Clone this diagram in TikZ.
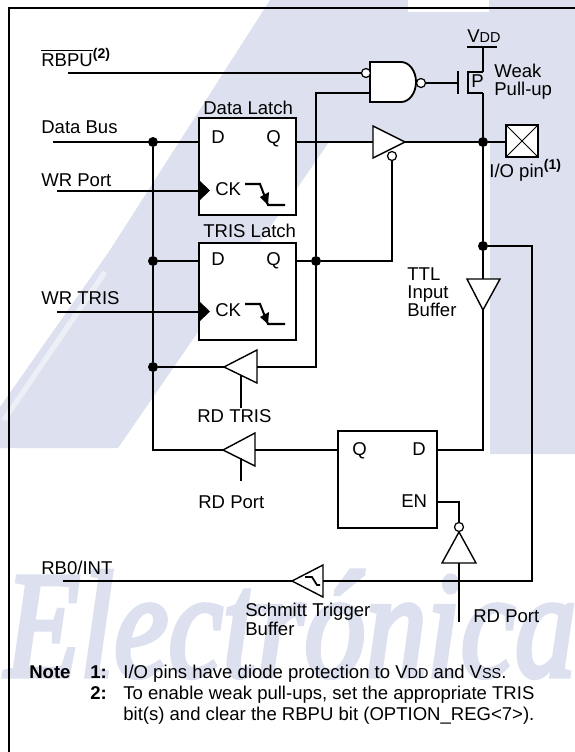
\documentclass[tikz,border=0pt]{standalone}
\usepackage{fontspec}
\setmainfont{Liberation Sans}
\newfontfamily\markfont[FakeBold=3.5]{Liberation Serif}
\newcommand{\lowcaps}[1]{{\fontsize{8.2}{10}\selectfont #1}}
\newcommand{\notemark}[1]{\raisebox{0.42em}{\fontsize{8}{9}\selectfont\bfseries #1}}
\definecolor{markblue}{HTML}{DDE0EE}
\definecolor{markpale}{HTML}{EDEFF6}
\tikzset{
  wire/.style={line width=1.15pt},
  gate/.style={line width=0.8pt,fill=white},
  nandgate/.style={line width=1.05pt,fill=white},
  thinline/.style={line width=0.55pt},
  latchbox/.style={draw,line width=1.15pt,fill=white,inner sep=0,outer sep=0},
  junction/.style={circle,fill=black,inner sep=0,minimum size=0.2cm},
  bubble/.style={circle,draw,line width=0.7pt,fill=white,inner sep=0,minimum size=0.18cm},
  lbl/.style={anchor=base west,inner sep=0,font=\fontsize{10.55}{12}\selectfont},
  notebold/.style={lbl,font=\fontsize{10.55}{12}\selectfont\bfseries},
}
\begin{document}
\begin{tikzpicture}[x=0.02cm,y=-0.02cm]
\useasboundingbox (0,0) rectangle (575,752);
% watermark
\begin{scope}
\clip (0,0) rectangle (575,752);
\fill[markblue] (270,0) -- (575,0) -- (575,454) -- (490,454) -- (490,142) -- (329,142)
  -- (118,448) -- (0,448) -- (0,407) -- (110,250) -- cycle;
\fill[white] (408,0) rectangle (489,12);
\draw[markpale,line width=3pt] (105,272) -- (4,420);
\node[lbl,font=\fontsize{86}{90}\selectfont\markfont\itshape,text=markblue,
  transform shape,xscale=0.81] (markword) at (5,676) {Electrónica};
\end{scope}
% frame
\coordinate (framea) at (9,752);
\coordinate (frameb) at (9,8);
\coordinate (framec) at (575,8);
\draw[wire] (framea) -- (frameb) -- (framec);
% latches
\node[latchbox,minimum width=1.94cm,minimum height=1.94cm] (datalatch) at (247.5,166.5) {};
\node[latchbox,minimum width=1.94cm,minimum height=1.94cm] (trislatch) at (247.5,291.5) {};
\node[latchbox,minimum width=1.98cm,minimum height=1.94cm] (portlatch) at (387.5,479.5) {};
\node[lbl] (datatitle) at (203,114) {Data Latch};
\node[lbl] (tristitle) at (203,237) {TRIS Latch};
\node[lbl] (datad) at (211,143) {D};
\node[lbl] (dataq) at (266,143) {Q};
\node[lbl] (trisd) at (211,265) {D};
\node[lbl] (trisq) at (266,265) {Q};
\node[lbl] (datack) at (215,195) {CK};
\node[lbl] (trisck) at (215,316) {CK};
\node[lbl] (portq) at (352,455) {Q};
\node[lbl] (portd) at (412,455) {D};
\node[lbl] (porten) at (401,507) {EN};
% clock marks
\fill (199,180) -- (210,190.5) -- (199,201) -- cycle;
\fill (199,301) -- (210,311.5) -- (199,322) -- cycle;
\draw[wire] (245,184) -- (260,184) -- (268,205) -- (285,205);
\draw[wire] (245,304) -- (260,304) -- (268,324) -- (285,324);
\fill (260,197) -- (269,192) -- (268,205) -- cycle;
\fill (260,317) -- (269,312) -- (268,324) -- cycle;
% nand and pull-up
\draw[nandgate] (370,62) -- (401,62) arc[start angle=-90,end angle=90,x radius=15,y radius=20] -- (370,102) -- cycle;
\node[bubble] (nandina) at (366,73) {};
\node[bubble] (nandout) at (421,83) {};
\coordinate (nandinb) at (370,93);
\coordinate (pgate) at (458,83);
\coordinate (vddbar) at (483,47);
\coordinate (pdrain) at (483,72);
\coordinate (psource) at (483,93);
\draw[wire] (467,47) -- (497,47);
\draw[wire] (458,71) -- (458,94);
\draw[wire] (pdrain) -- (468,72) -- (468,93) -- (psource);
\node[lbl] (vddlabel) at (467,42) {V\lowcaps{DD}};
\node[lbl] (plabel) at (471,87) {P};
\node[lbl] (weak) at (494,77) {Weak};
\node[lbl] (pullup) at (494,95) {Pull-up};
% buffers
\draw[gate] (373,126) -- (405,142) -- (373,158) -- cycle;
\node[bubble] (tsctl) at (392,156) {};
\draw[gate] (467,279) -- (500,279) -- (483,310) -- cycle;
\draw[gate] (224,367) -- (257,350) -- (257,383) -- cycle;
\draw[gate] (223,450) -- (255,433) -- (255,466) -- cycle;
\draw[gate] (292,581) -- (323,565) -- (323,597) -- cycle;
\draw[thinline,line width=1pt] (305,577) -- (312,577) -- (317,585) -- (320,585);
\draw[gate] (459,532) -- (476,563) -- (442,563) -- cycle;
\node[bubble] (invout) at (459,527) {};
% pin
\node[latchbox,minimum width=0.64cm,minimum height=0.64cm] (pinbox) at (522,141) {};
\draw[thinline] (pinbox.north west) -- (pinbox.south east);
\draw[thinline] (pinbox.north east) -- (pinbox.south west);
% junctions
\node[junction] (busa) at (153,142) {};
\node[junction] (busb) at (153,261) {};
\node[junction] (busc) at (153,367) {};
\node[junction] (trisout) at (316,261) {};
\node[junction] (pinnode) at (483,142) {};
\node[junction] (ttlnode) at (483,246) {};
% connector ends
\coordinate (rbpuend) at (68,73);
\coordinate (busend) at (53,142);
\coordinate (wrportend) at (57,191);
\coordinate (wrtrisend) at (57,312);
\coordinate (buscorner) at (153,450);
\coordinate (rbint) at (63,581);
\coordinate (schmitt) at (323,581);
\coordinate (schmittin) at (292,581);
\coordinate (ttlin) at (483,279);
\coordinate (ttlout) at (483,310);
\coordinate (rdtrisctl) at (241,375);
\coordinate (rdtrisend) at (241,408);
\coordinate (rdportctl) at (241,458);
\coordinate (rdportend) at (241,481);
\coordinate (invin) at (459,563);
\coordinate (invend) at (459,622);
% wires
\draw[wire] (rbpuend) -- (nandina);
\draw[wire] (nandout) -- (pgate);
\draw[wire] (vddbar) -- (pdrain);
\draw[wire] (psource) -- (pinnode);
\draw[wire] (pinnode) -- (ttlnode);
\draw[wire] (pinnode) -- (pinnode -| pinbox.west);
\draw[wire] (busend) -- (busend -| datalatch.west);
\draw[wire] (busa) -- (busb);
\draw[wire] (busb) -- (busc);
\draw[wire] (busc) -- (buscorner) -- (223,450);
\draw[wire] (busb) -- (busb -| trislatch.west);
\draw[wire] (wrportend) -- (wrportend -| datalatch.west);
\draw[wire] (wrtrisend) -- (wrtrisend -| trislatch.west);
\draw[wire] (datalatch.east |- pinnode) -- (373,142);
\draw[wire] (405,142) -- (pinnode);
\draw[wire] (trisout -| trislatch.east) -- (trisout);
\draw[wire] (trisout) -- (392,261) -- (tsctl);
\draw[wire] (nandinb) -- (316,93) -- (trisout);
\draw[wire] (trisout) -- (316,367) -- (257,367);
\draw[wire] (busc) -- (224,367);
\draw[wire] (rdtrisctl) -- (rdtrisend);
\draw[wire] (255,450) -- (portlatch.west |- 0,450);
\draw[wire] (rdportctl) -- (rdportend);
\draw[wire] (ttlnode) -- (ttlin);
\draw[wire] (ttlout) -- (483,450) -- (portlatch.east |- 0,450);
\draw[wire] (portlatch.east |- 0,502) -- (459,502) -- (invout);
\draw[wire] (invin) -- (invend);
\draw[wire] (ttlnode) -- (532,246) -- (532,581) -- (schmitt);
\draw[wire] (schmittin) -- (rbint);
% labels
\node[lbl] (rbpu) at (41,66) {$\overline{\mbox{RBPU}}$\notemark{(2)}};
\node[lbl] (databus) at (41,133) {Data Bus};
\node[lbl] (wrport) at (41,186) {WR Port};
\node[lbl] (wrtris) at (41,304) {WR TRIS};
\node[lbl] (rdtris) at (197,422) {RD TRIS};
\node[lbl] (rdporta) at (198,508) {RD Port};
\node[lbl] (rdportb) at (473,622) {RD Port};
\node[lbl] (iopin) at (489,177) {I/O pin\notemark{(1)}};
\node[lbl] (ttla) at (407,280) {TTL};
\node[lbl] (ttlb) at (407,298) {Input};
\node[lbl] (ttlc) at (407,316) {Buffer};
\node[lbl] (rbzero) at (41,574) {RB0/INT};
\node[lbl] (schmitta) at (245,616) {Schmitt Trigger};
\node[lbl] (schmittb) at (245,635) {Buffer};
% notes
\node[notebold] (notehead) at (29,678) {Note};
\node[notebold] (noteone) at (90,678) {1:};
\node[notebold] (notetwo) at (90,699) {2:};
\node[lbl] (texta) at (123,678) {I/O pins have diode protection to V\lowcaps{DD} and V\lowcaps{SS}.};
\node[lbl] (textb) at (123,699) {To enable weak pull-ups, set the appropriate TRIS};
\node[lbl] (textc) at (123,720) {bit(s) and clear the RBPU bit (OPTION\_REG<7>).};
\end{tikzpicture}
\end{document}
